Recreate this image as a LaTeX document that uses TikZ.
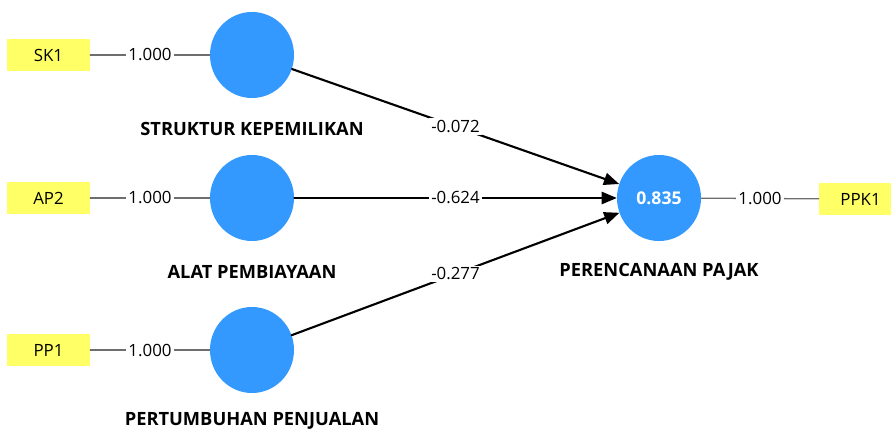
\documentclass[tikz,border=0pt]{standalone}
\usepackage{fontspec}
\setmainfont{Open Sans}
\usetikzlibrary{arrows}
\usetikzlibrary{shapes.geometric}
\definecolor{lvblue}{RGB}{51,153,255}
\definecolor{mvyellow}{RGB}{255,255,102}
\definecolor{loadgray}{RGB}{110,110,110}

\begin{document}
\begin{tikzpicture}[line cap=round,line join=round,>=triangle 45,x=0.025cm,y=-0.025cm,
  latent/.style={ellipse,fill=lvblue,minimum width=2.1cm,minimum height=2.15cm,inner sep=0pt},
  indic/.style={rectangle,fill=mvyellow,minimum width=2.075cm,minimum height=0.8cm,inner sep=0pt,font=\fontsize{12}{14}\selectfont},
  lvname/.style={font=\bfseries\fontsize{13}{15}\selectfont},
  loading/.style={draw=loadgray,line width=0.9pt},
  path/.style={draw=black,line width=1.5pt,->},
  coef/.style={fill=white,inner sep=1.5pt,font=\fontsize{12}{14}\selectfont}]
\clip (0,0) rectangle (891,431);
% latent variables
\node[latent] (sk) at (252,55) {};
\node[latent] (ap) at (252,198) {};
\node[latent] (pp) at (252,350) {};
\node[latent,text=white,font=\bfseries\fontsize{12.5}{15}\selectfont] (pj) at (659,198) {0.835};
\node[lvname] (sklbl) at (252,129) {STRUKTUR KEPEMILIKAN};
\node[lvname] (aplbl) at (252,272) {ALAT PEMBIAYAAN};
\node[lvname] (pplbl) at (252,421) {PERTUMBUHAN PENJUALAN};
\node[lvname] (pjlbl) at (659,272) {PERENCANAAN PAJAK};
% indicators
\node[indic] (sk1) at (48.5,55) {SK1};
\node[indic] (ap2) at (48.5,198) {AP2};
\node[indic] (pp1) at (48.5,350) {PP1};
\node[indic] (ppk1) at (860.5,199) {PPK1};
% loadings
\draw[loading] (sk1) -- node[coef] {1.000} (sk);
\draw[loading] (ap2) -- node[coef] {1.000} (ap);
\draw[loading] (pp1) -- node[coef] {1.000} (pp);
\draw[loading] (pj) -- node[coef] {1.000} (ppk1);
% paths
\draw[path] (sk) -- node[coef] {-0.072} (pj);
\draw[path] (ap) -- node[coef] {-0.624} (pj);
\draw[path] (pp) -- node[coef] {-0.277} (pj);
\end{tikzpicture}
\end{document}
